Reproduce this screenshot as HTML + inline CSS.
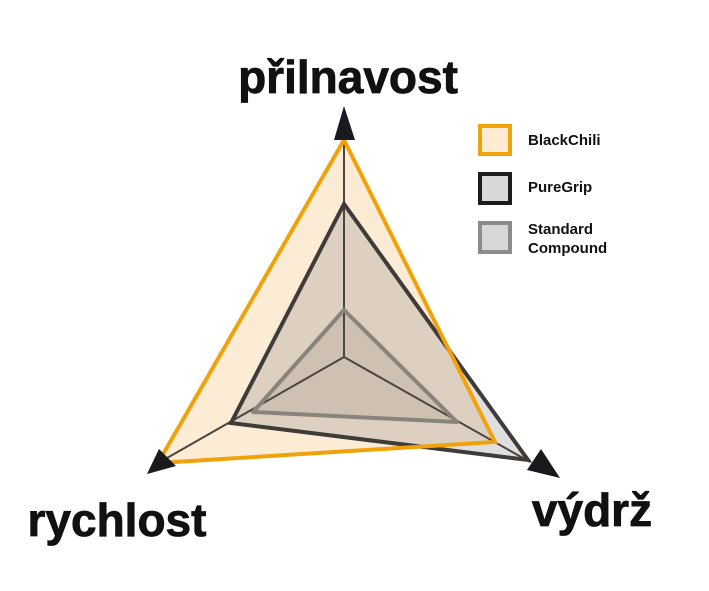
<!DOCTYPE html>
<html><head><meta charset="utf-8"><style>
html,body{margin:0;padding:0;background:#fff;}
svg{display:block}
</style></head><body>
<svg width="709" height="591" viewBox="0 0 709 591" xmlns="http://www.w3.org/2000/svg">
<polygon points="344,140 158,463 495,442" fill="#fdecd5"/>
<polygon points="344,204 231,423 528,460" fill="rgba(110,110,120,0.22)"/>
<polygon points="344,310 253,412 457,422" fill="rgba(100,90,80,0.12)"/>
<g stroke="#4a4540" stroke-width="2" fill="none">
<line x1="344" y1="357" x2="344" y2="125"/>
<line x1="344" y1="357" x2="160" y2="462"/>
<line x1="344" y1="357" x2="530" y2="462"/>
</g>
<polygon points="344,310 253,412 457,422" fill="none" stroke="#8a837b" stroke-width="4" stroke-linejoin="round"/>
<polygon points="344,204 231,423 528,460" fill="none" stroke="#3f3b38" stroke-width="4" stroke-linejoin="miter"/>
<polygon points="344,140 158,463 495,442" fill="none" stroke="#f0a20a" stroke-width="4" stroke-linejoin="miter"/>
<polygon points="344,106 334,140 355,140" fill="#1a1a1e"/>
<polygon points="147,474 159,449 176,466" fill="#1a1a1e"/>
<polygon points="560,478 527,470 541,449" fill="#1a1a1e"/>
<g font-family="Liberation Sans, sans-serif" font-weight="bold" fill="#111" stroke="#111" stroke-width="0.8">
<text x="348" y="93" font-size="46" text-anchor="middle">přilnavost</text>
<text x="117" y="536" font-size="46" text-anchor="middle">rychlost</text>
<text x="592" y="526" font-size="46" text-anchor="middle">výdrž</text>
</g>
<rect x="480" y="126" width="30" height="28" fill="#fdebd4" stroke="#f0a20a" stroke-width="4"/>
<rect x="480" y="174" width="30" height="29" fill="#d6d8da" stroke="#1c1c1e" stroke-width="4"/>
<rect x="480" y="223" width="30" height="29" fill="#d6d8da" stroke="#8c8c8c" stroke-width="4"/>
<g font-family="Liberation Sans, sans-serif" font-weight="bold" font-size="15" fill="#111">
<text x="528" y="145">BlackChili</text>
<text x="528" y="192">PureGrip</text>
<text x="528" y="234">Standard</text>
<text x="528" y="253">Compound</text>
</g>
</svg>
</body></html>
